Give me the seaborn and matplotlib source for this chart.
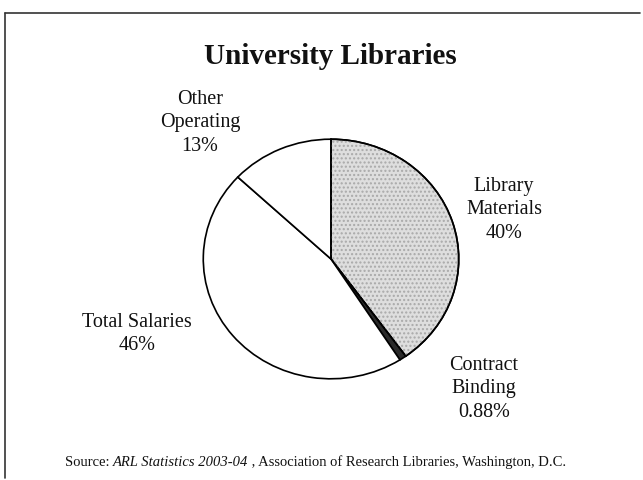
import matplotlib
matplotlib.use('Agg')
import matplotlib.pyplot as plt
import seaborn as sns
from matplotlib.lines import Line2D
from matplotlib.patches import Wedge

categories = ['Library Materials', 'Contract Binding', 'Total Salaries', 'Other Operating']
shares = [40, 0.88, 46, 13]
pct_labels = ['40%', '0.88%', '46%', '13%']
label_text = ['Library\nMaterials', 'Contract\nBinding', 'Total Salaries', 'Other\nOperating']
slice_colors = ['#dedede', '#2a2a2a', '#ffffff', '#ffffff']

sns.set_theme(style='white')
plt.rcParams['font.family'] = ['Liberation Serif', 'DejaVu Serif']

W, H = 643, 480
fig = plt.figure(figsize=(W / 100, H / 100), dpi=100)
fig.patch.set_facecolor('white')

# pie axes placed in pixel terms (slightly wider than tall, like the scan)
cx, cy, rx, ry = 331, 259, 129, 121
ax = fig.add_axes([(cx - rx) / W, (H - cy - ry) / H, 2 * rx / W, 2 * ry / H])
wedges, _ = ax.pie(shares, colors=slice_colors, startangle=90, counterclock=False,
                   wedgeprops=dict(edgecolor='black', linewidth=1.2))

# light stipple over the library materials slice
w0 = wedges[0]
stip = Wedge(w0.center, w0.r, w0.theta1, w0.theta2, facecolor='none',
             edgecolor='#a9a9a9', hatch='....', linewidth=0, zorder=w0.get_zorder() + 0.1)
ax.add_patch(stip)
outline = Wedge(w0.center, w0.r, w0.theta1, w0.theta2, facecolor='none',
                edgecolor='black', linewidth=1.2, zorder=w0.get_zorder() + 0.2)
ax.add_patch(outline)

ax.set_xlim(-1.01, 1.01)
ax.set_ylim(-1.01, 1.01)
ax.set_aspect('auto')
ax.axis('off')

# label positions (pixels, from top-left)
label_pos = [(504, 210), (484, 389), (137, 334), (200, 123)]
for txt, pct, (px, py) in zip(label_text, pct_labels, label_pos):
    fig.text(px / W, 1 - py / H, f'{txt}\n{pct}', ha='center', va='center',
             fontsize=14.5, linespacing=1.3, color='#111111')

fig.text(330 / W, 1 - 57 / H, 'University Libraries', ha='center', va='center',
         fontsize=21, fontweight='bold', color='#111111')

# source line: plain / italic / plain pieces laid end to end
src_parts = [('Source: ', 'normal'), ('ARL Statistics 2003-04', 'italic'),
             (' , Association of Research Libraries, Washington, D.C.', 'normal')]
renderer = fig.canvas.get_renderer()
texts = []
for s, st in src_parts:
    t = fig.text(0, 1 - 462 / H, s, ha='left', va='center', fontsize=10.5, style=st,
                 color='#111111')
    texts.append(t)
widths = [t.get_window_extent(renderer).width for t in texts]
x = 65
for t, w in zip(texts, widths):
    t.set_x(x / W)
    x += w

# frame lines (left and top only visible)
fig.add_artist(Line2D([5 / W, 5 / W], [1 - 13 / H, 1 - 478 / H], transform=fig.transFigure,
                      color='#333333', linewidth=1.2))
fig.add_artist(Line2D([5 / W, 640 / W], [1 - 13 / H, 1 - 13 / H], transform=fig.transFigure,
                      color='#333333', linewidth=1.2))

fig.savefig('out.png', dpi=100, facecolor='white')
